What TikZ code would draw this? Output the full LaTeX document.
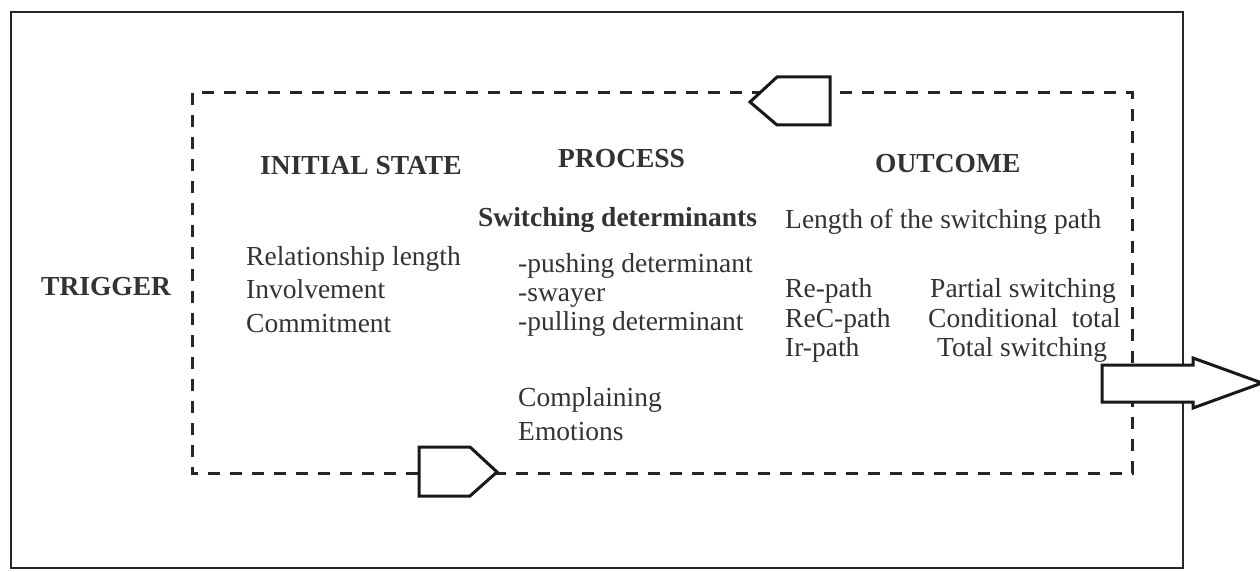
\documentclass[tikz,border=0pt]{standalone}
\usepackage{fontspec}
\setmainfont{Liberation Serif}
\begin{document}
\begin{tikzpicture}[x=1pt,y=-1pt,
  txt/.style={anchor=base west,inner sep=0pt,text=black!80,font=\fontsize{27.5}{33}\selectfont},
  hd/.style={txt,font=\fontsize{27.5}{33}\selectfont\bfseries},
  frame/.style={draw=black!85,line width=2.5pt},
  dashbox/.style={draw=black!85,line width=3pt,dash pattern=on 12pt off 10pt},
  pent/.style={draw=black!90,line width=3pt,fill=white,line join=miter}]
\useasboundingbox[fill=white] (0,0) rectangle (1260,572);
% outer frame
\draw[frame] (11,12) rectangle (1183,568);
% dashed loop
\draw[dashbox] (192,93) rectangle (1132,473);
% loop arrows
\draw[pent] (750,102) -- (777,77) -- (830,77) -- (830,125) -- (777,125) -- cycle;
\draw[pent] (419,447) -- (470,447) -- (497,472) -- (470,496) -- (419,496) -- cycle;
% output arrow
\draw[pent] (1102,365) -- (1193,365) -- (1193,358) -- (1262,383) -- (1193,408) -- (1193,402) -- (1102,402) -- cycle;
% texts
\node[hd] (trig) at (41,295) {TRIGGER};
\node[hd] (init) at (260,175) {INITIAL STATE};
\node[hd] (proc) at (558,168) {PROCESS};
\node[hd] (outc) at (875,173) {OUTCOME};
\node[hd] (swd) at (478,226) {Switching determinants};
\node[txt] (len) at (785,228) {Length of the switching path};
\node[txt] (rl) at (246,265) {Relationship length};
\node[txt] (inv) at (246,298) {Involvement};
\node[txt] (com) at (246,332) {Commitment};
\node[txt] (push) at (518,272) {-pushing determinant};
\node[txt] (sway) at (518,301) {-swayer};
\node[txt] (pull) at (518,330) {-pulling determinant};
\node[txt] (compl) at (518,406) {Complaining};
\node[txt] (emo) at (518,440) {Emotions};
\node[txt] (re) at (785,297) {Re-path};
\node[txt] (rec) at (785,327) {ReC-path};
\node[txt] (ir) at (785,356) {Ir-path};
\node[txt] (part) at (930,297) {Partial switching};
\node[txt] (cond) at (928,327) {Conditional\ \ total};
\node[txt] (tot) at (937,356) {Total switching};
\end{tikzpicture}
\end{document}
